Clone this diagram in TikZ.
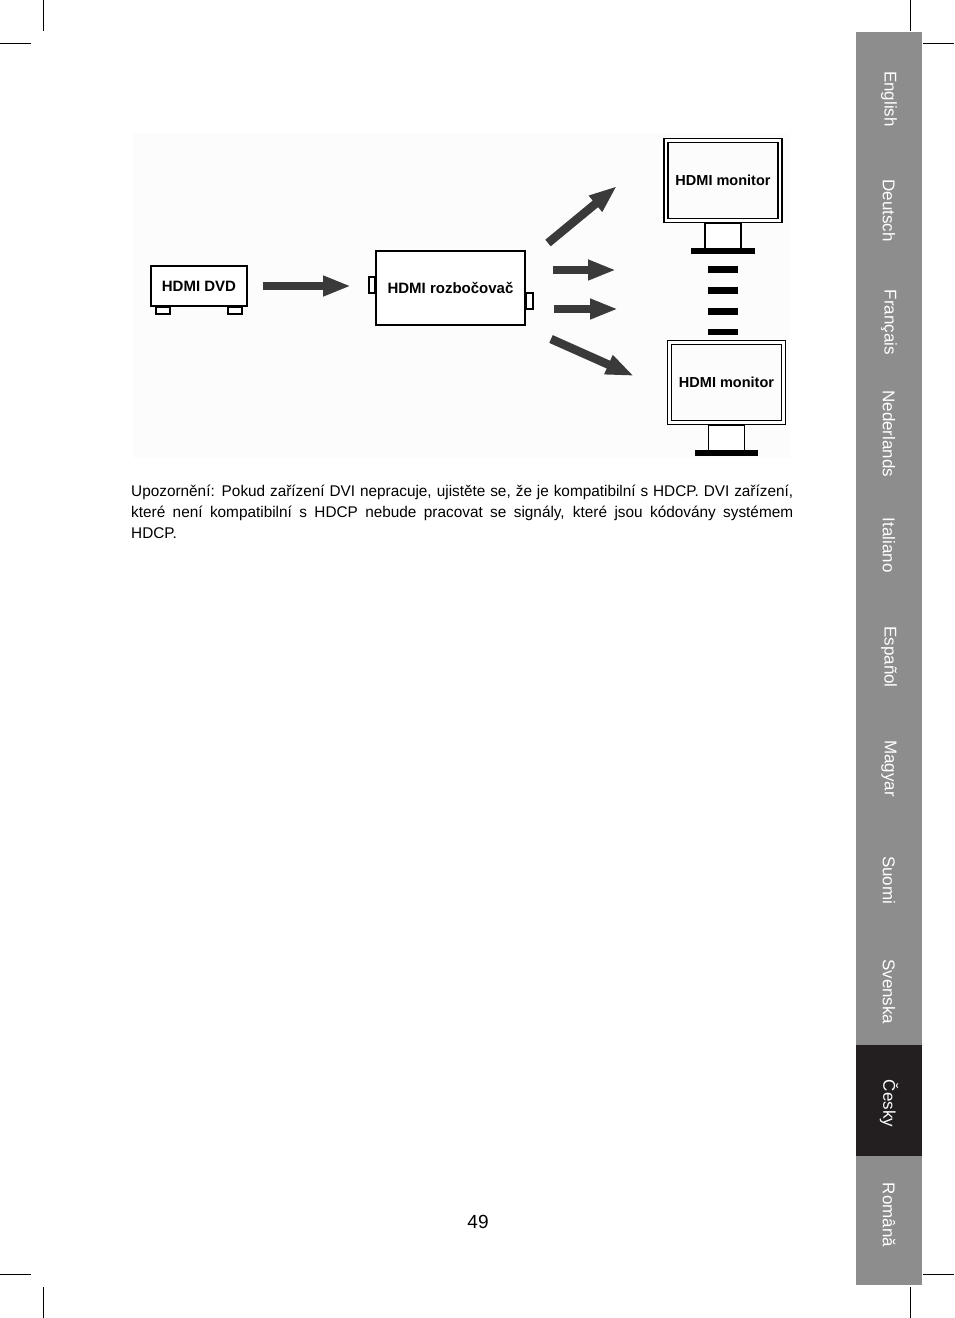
\documentclass[tikz,border=0pt]{standalone}
\usepackage{fontspec}
\setmainfont{Liberation Sans}
\newfontfamily\narrowfont[FakeStretch=0.99]{Liberation Sans}
\usepackage{tikz}
\usetikzlibrary{positioning, arrows.meta, calc}
\definecolor{tabgray}{HTML}{8E8D8D}
\definecolor{tabdark}{HTML}{231F20}
\definecolor{arrowgray}{HTML}{3A3A3A}
\definecolor{bggray}{HTML}{FCFCFC}
\tikzset{
    box_device/.style={rectangle, draw=black, line width=2pt, fill=white, align=center, font=\fontsize{15}{18}\selectfont\bfseries},
    box_screen/.style={rectangle, draw=black, line width=1.3pt, double=white, double distance=2.6pt, minimum width=114, minimum height=80.5, align=center, font=\fontsize{14.5}{17}\selectfont\bfseries},
    part_stand/.style={draw=black, line width=1.6pt, fill=white},
    arrow_fat/.style={draw=arrowgray, line width=8.5pt, -{Triangle[length=28pt, width=19pt]}},
    link_dash/.style={draw=black, line width=30pt, dash pattern=on 7.5pt off 13.5pt},
    tab_label/.style={rotate=-90, text=white, font=\fontsize{17}{20}\selectfont}
}
\begin{document}
\begin{tikzpicture}[x=1pt, y=-1pt]
    \useasboundingbox (0,0) rectangle (954,1318);

    % Crop marks
    \draw[line width=1pt] (43,0) -- (43,31) (0,43) -- (31,43);
    \draw[line width=1pt] (910,0) -- (910,31) (923,43) -- (954,43);
    \draw[line width=1pt] (43,1287) -- (43,1318) (0,1274) -- (31,1274);
    \draw[line width=1pt] (910,1287) -- (910,1318) (923,1274) -- (954,1274);

    % Language tabs
    \fill[tabgray] (856,32) rectangle (922,1285);
    \fill[tabdark] (856,1045) rectangle (922,1156);
    \foreach \lang [count=\i from 0] in {English, Deutsch, Français, Nederlands, Italiano, Español, Magyar, Suomi, Svenska, Česky, Română}
        \node[tab_label] (tab\i) at (889, 99+111.6*\i) {\lang};

    % Diagram background
    \fill[bggray] (133,133) rectangle (790,458);

    % 1. Source and splitter
    \node[box_device, minimum width=96, minimum height=40] (dvd) at (199,286) {HDMI DVD};
    \draw[part_stand] ($(dvd.south west)+(6,0)$) rectangle ++(14,7);
    \draw[part_stand] ($(dvd.south east)+(-20,0)$) rectangle ++(14,7);

    \node[box_device, minimum width=149, minimum height=74] (splitter) at (450.5,288) {HDMI rozbočovač};
    \draw[part_stand] ($(splitter.west)+(-6,-11)$) rectangle ++(6,16);
    \draw[part_stand] ($(splitter.east)+(0,5)$) rectangle ++(7,16);

    % 2. Monitors
    \node[box_screen] (mon1) at (723,180.5) {HDMI monitor};
    \draw[part_stand] ($(mon1.south)+(-18,2)$) rectangle ($(mon1.south)+(18,27)$);
    \draw[part_stand, fill=black] ($(mon1.south)+(-31,27)$) rectangle ($(mon1.south)+(31,32)$);

    \node[box_screen] (mon2) at (726.5,382.5) {HDMI monitor};
    \draw[part_stand] ($(mon2.south)+(-18,2)$) rectangle ($(mon2.south)+(18,27)$);
    \draw[part_stand, fill=black] ($(mon2.south)+(-31,27)$) rectangle ($(mon2.south)+(31,32)$);

    % Free ends of the output arrows
    \coordinate (out1) at (548,243);
    \coordinate (in1) at (617,186);
    \coordinate (out2) at (553,270);
    \coordinate (in2) at (616,270);
    \coordinate (out3) at (554,309);
    \coordinate (in3) at (618,309);
    \coordinate (out4) at (551,339);
    \coordinate (in4) at (634,376);
    \coordinate (dash_top) at ($(mon1.south)+(0,44.5)$);
    \coordinate (dash_end) at ($(dash_top |- mon2.north)+(0,-7)$);

    % --- CONNECTIONS ---
    \draw[arrow_fat, shorten <=15pt, shorten >=24pt] (dvd.east) -- (dvd.east -| splitter.west);
    \draw[arrow_fat] (out1) -- (in1);
    \draw[arrow_fat] (out2) -- (in2);
    \draw[arrow_fat] (out3) -- (in3);
    \draw[arrow_fat] (out4) -- (in4);
    \draw[link_dash] (dash_top) -- (dash_end);

    % 3. Note and page number
    \node[anchor=north west, text width=662pt, align=justify, inner sep=0pt,
          font=\narrowfont\fontsize{15.5}{21}\selectfont] (note) at (131,485) {%
        Upozornění: Pokud zařízení DVI nepracuje, ujistěte se, že je kompatibilní s HDCP. DVI zařízení,\linebreak
        které není kompatibilní s HDCP nebude pracovat se signály, které jsou kódovány systémem\linebreak
        HDCP.};
    \node[font=\fontsize{19}{22}\selectfont] (page) at (478,1222) {49};
\end{tikzpicture}
\end{document}
